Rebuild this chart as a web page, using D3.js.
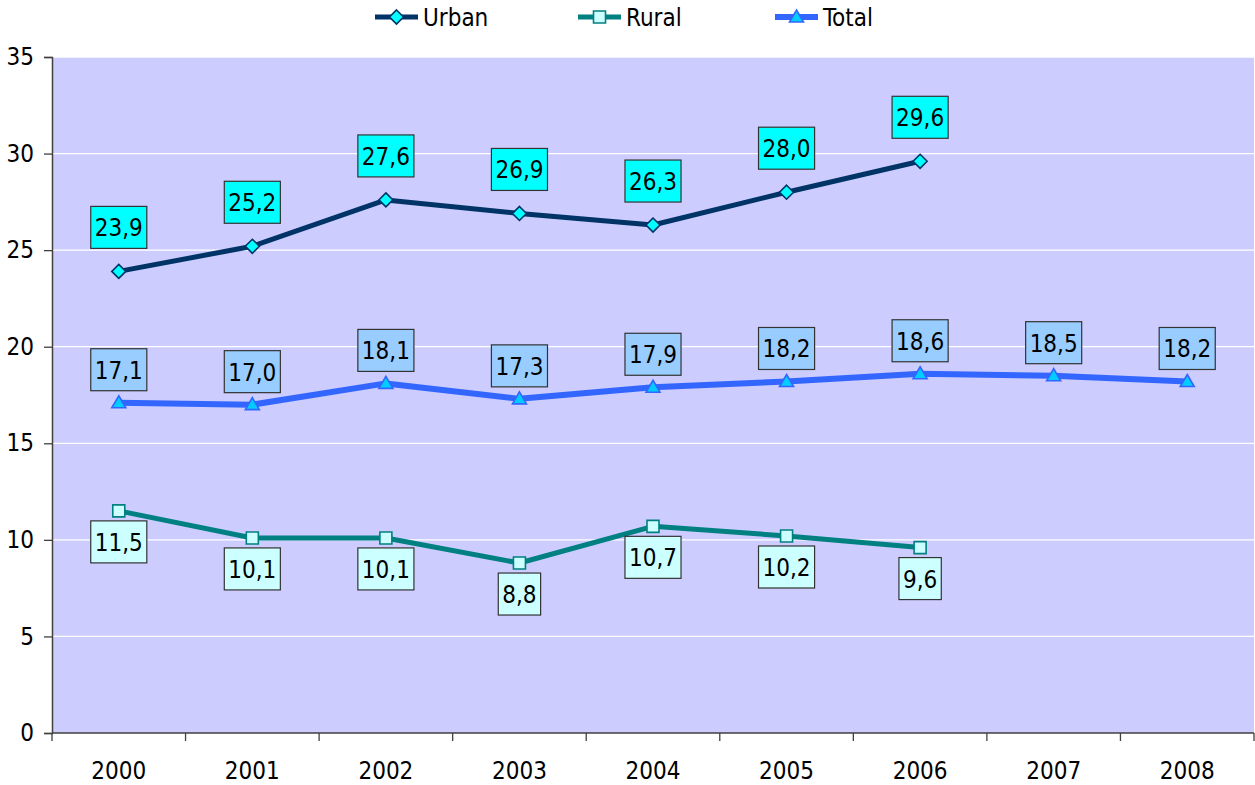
<!DOCTYPE html>
<html>
<head>
<meta charset="utf-8">
<script src="https://cdn.jsdelivr.net/npm/d3@7"></script>
<style>
  html, body { margin: 0; padding: 0; background: #fff; }
  svg { display: block; font-family: "DejaVu Sans Condensed", "DejaVu Sans", Verdana, sans-serif; }
</style>
</head>
<body>
<svg id="chart" width="1255" height="785"></svg>
<script>
// chart data
var years = ["2000", "2001", "2002", "2003", "2004", "2005", "2006", "2007", "2008"];
var urban = [23.9, 25.2, 27.6, 26.9, 26.3, 28.0, 29.6, null, null];
var rural = [11.5, 10.1, 10.1, 8.8, 10.7, 10.2, 9.6, null, null];
var total = [17.1, 17.0, 18.1, 17.3, 17.9, 18.2, 18.6, 18.5, 18.2];
var yTicks = [0, 5, 10, 15, 20, 25, 30, 35];

(function () {
  var series = [
    { name: "Urban", values: urban, line: "#003366", width: 5, marker: "diamond", fill: "#00FFFF", labelFill: "#00FFFF", where: "above", gap: 23 },
    { name: "Rural", values: rural, line: "#008080", width: 5, marker: "square", fill: "#CCFFFF", labelFill: "#CCFFFF", where: "below", gap: 10 },
    { name: "Total", values: total, line: "#3366FF", width: 6, marker: "triangle", fill: "#00CCFF", labelFill: "#99CCFF", where: "above", gap: 12 }
  ];
  var fs = 24;

  var svg = d3.select("#chart");
  var pl = 52, pr = 1254, pt = 57, pb = 733;

  var x = d3.scaleBand().domain(years).range([pl, pr]);
  var y = d3.scaleLinear().domain([0, 35]).range([pb, pt]);
  var cx = function (i) { return x(years[i]) + x.bandwidth() / 2; };
  var fmt = function (v) { return v.toFixed(1).replace(".", ","); };

  // plot area
  svg.append("rect").attr("x", pl).attr("y", pt)
    .attr("width", pr - pl).attr("height", pb - pt).attr("fill", "#CCCCFF");

  svg.append("g").selectAll("line").data(yTicks.filter(function (t) { return t > 0; }))
    .join("line")
    .attr("x1", pl).attr("x2", pr)
    .attr("y1", function (d) { return y(d); }).attr("y2", function (d) { return y(d); })
    .attr("stroke", "#fff").attr("stroke-width", 1.3);

  // y axis
  var yAxis = svg.append("g").attr("transform", "translate(" + pl + ",0)")
    .call(d3.axisLeft(y).tickValues(yTicks).tickSize(8).tickPadding(10));
  yAxis.select(".domain").attr("stroke", "#404040").attr("stroke-width", 1.5);
  yAxis.selectAll(".tick line").attr("stroke", "#404040").attr("stroke-width", 1.3);
  yAxis.selectAll("text").attr("font-size", fs).attr("fill", "#000");
  yAxis.attr("font-family", null).attr("font-size", null);

  // x axis, ticks sit between categories
  var xAxis = svg.append("g").attr("transform", "translate(0," + pb + ")");
  xAxis.append("line").attr("x1", pl).attr("x2", pr).attr("stroke", "#404040").attr("stroke-width", 1.5);
  xAxis.selectAll("line.tk").data(d3.range(years.length + 1)).join("line").attr("class", "tk")
    .attr("x1", function (i) { return pl + i * x.bandwidth(); })
    .attr("x2", function (i) { return pl + i * x.bandwidth(); })
    .attr("y1", 0).attr("y2", 8).attr("stroke", "#404040").attr("stroke-width", 1.3);
  xAxis.selectAll("text").data(years).join("text")
    .attr("x", function (d, i) { return cx(i); }).attr("y", 46)
    .attr("text-anchor", "middle").attr("font-size", fs).text(function (d) { return d; });

  function markerPath(kind, size) {
    var s = size / 2;
    if (kind === "diamond") return "M0," + (-s - 1) + "L" + (s + 1) + ",0L0," + (s + 1) + "L" + (-s - 1) + ",0Z";
    if (kind === "square") return "M" + (-s) + "," + (-s) + "H" + s + "V" + s + "H" + (-s) + "Z";
    return "M0," + (-s - 1) + "L" + (s + 1) + "," + (s - 1) + "H" + (-s - 1) + "Z";
  }

  series.forEach(function (s) {
    var pts = s.values.map(function (v, i) { return { v: v, i: i }; })
      .filter(function (p) { return p.v != null; });

    var line = d3.line().x(function (p) { return cx(p.i); }).y(function (p) { return y(p.v); });
    svg.append("path").datum(pts).attr("d", line)
      .attr("fill", "none").attr("stroke", s.line).attr("stroke-width", s.width)
      .attr("stroke-linejoin", "round");

    svg.append("g").selectAll("path").data(pts).join("path")
      .attr("transform", function (p) { return "translate(" + cx(p.i) + "," + y(p.v) + ")"; })
      .attr("d", markerPath(s.marker, 12))
      .attr("fill", s.fill).attr("stroke", s.line).attr("stroke-width", 1.6);

    // data labels in boxes
    var g = svg.append("g").selectAll("g").data(pts).join("g");
    g.append("text").attr("font-size", fs).attr("text-anchor", "middle")
      .text(function (p) { return fmt(p.v); });
    g.each(function (p) {
      var el = d3.select(this);
      var w = el.select("text").node().getComputedTextLength() + 8;
      var h = 42;
      var py = y(p.v);
      var boxTop = s.where === "above" ? py - s.gap - h : py + s.gap;
      el.insert("rect", "text")
        .attr("x", cx(p.i) - w / 2).attr("y", boxTop)
        .attr("width", w).attr("height", h)
        .attr("fill", s.labelFill).attr("stroke", "#333").attr("stroke-width", 1.2);
      el.select("text").attr("x", cx(p.i)).attr("y", boxTop + h - 12);
    });
  });

  // legend
  var legendX = [375, 578, 775];
  var lg = svg.append("g").selectAll("g").data(series).join("g")
    .attr("transform", function (s, i) { return "translate(" + legendX[i] + ",17)"; });
  lg.append("line").attr("x1", 0).attr("x2", 43)
    .attr("stroke", function (s) { return s.line; }).attr("stroke-width", function (s) { return s.width; });
  lg.append("path").attr("transform", "translate(21.5,0)")
    .attr("d", function (s) { return markerPath(s.marker, 12); })
    .attr("fill", function (s) { return s.fill; }).attr("stroke", function (s) { return s.line; }).attr("stroke-width", 1.6);
  lg.append("text").attr("x", 48).attr("y", 9).attr("font-size", fs).text(function (s) { return s.name; });
})();
</script>
</body>
</html>
